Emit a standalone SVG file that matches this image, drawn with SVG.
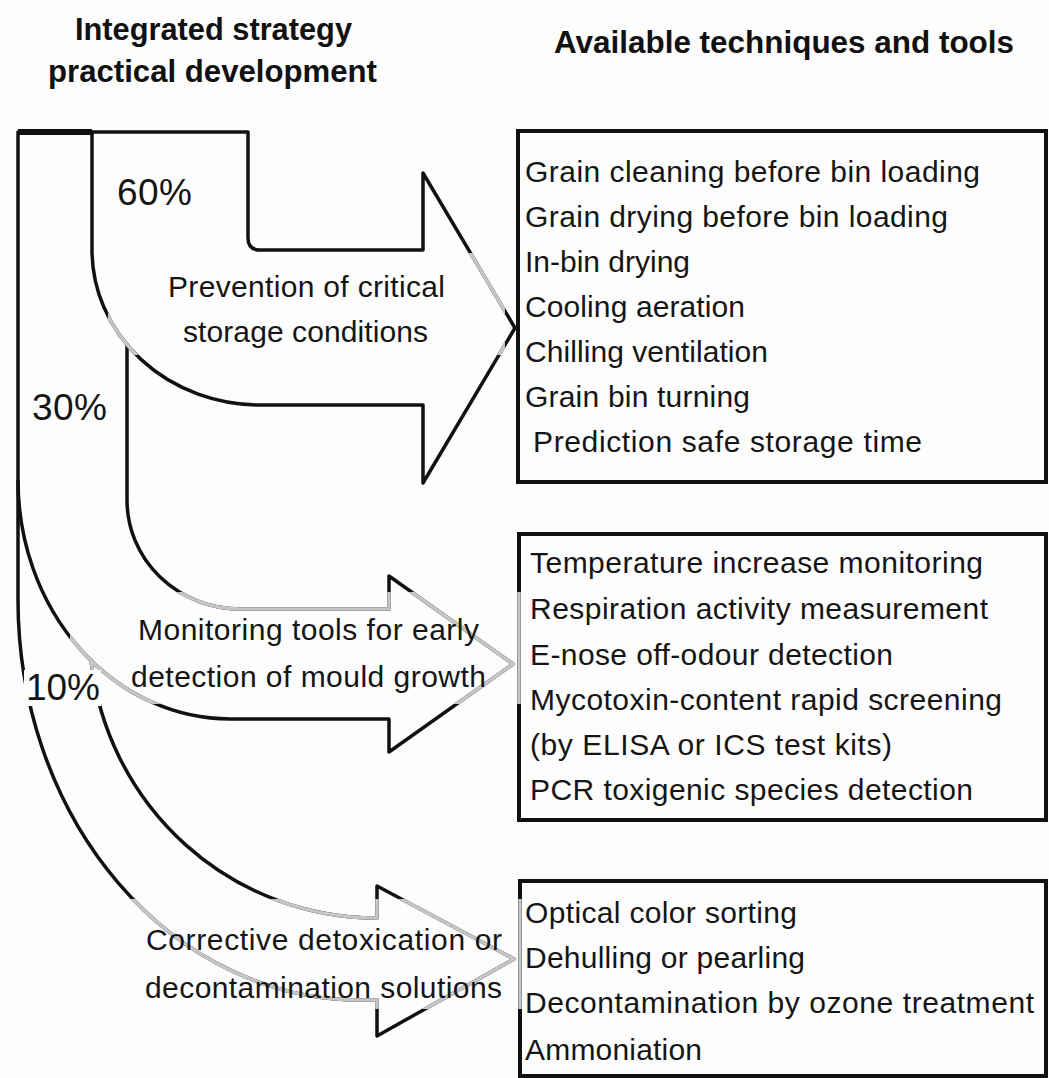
<svg xmlns="http://www.w3.org/2000/svg" xmlns:xlink="http://www.w3.org/1999/xlink" width="1049" height="1078" viewBox="0 0 1049 1078">
<style>
.o{fill:none;stroke:#111;stroke-width:3.5;stroke-linejoin:round}
.g{fill:none;stroke:#c6c6c6;stroke-width:3.5;stroke-linejoin:round}
.bx{fill:none;stroke:#111;stroke-width:4}
.t{font-family:"Liberation Sans",Arial,sans-serif;font-size:30px;fill:#151515}
.h{font-family:"Liberation Sans",Arial,sans-serif;font-size:32px;font-weight:bold;fill:#111}
.p{font-family:"Liberation Sans",Arial,sans-serif;font-size:37px;fill:#151515}
</style>
<defs>
<path id="a1" d="M92 132 L92 250 A168 155 0 0 0 260 405 L423 405 L423 483 L515 328 L423 173 L423 250 L260 250 Q248 250 248 238 L248 132 Z"/>
<path id="a2" d="M127 345 L127 500 A113 109 0 0 0 240 609 L389 609 L389 576 L513 664 L389 752 L389 719 L230 719 A212 239 0 0 1 18 480"/>
<path id="a3" d="M91 660 A287 290 0 0 0 377 918 L377 886 L514 959 L377 1036 L377 1000 L360 1000 A342 400 0 0 1 18 600 L18 132 L92 132"/>
<rect id="b2l" x="519" y="534" width="527" height="286"/>
<rect id="b3l" x="520" y="881" width="526" height="195"/>
<clipPath id="c1"><rect x="108" y="253" width="397" height="102"/></clipPath>
<clipPath id="c2"><rect x="70" y="592" width="460" height="112"/></clipPath>
<clipPath id="c3"><rect x="125" y="899" width="405" height="110"/></clipPath>
</defs>
<rect width="1049" height="1078" fill="#fdfdfd"/>

<g id="headers">
<text class="h" x="75" y="40" textLength="277" lengthAdjust="spacingAndGlyphs">Integrated strategy</text>
<text class="h" x="48" y="82" textLength="329" lengthAdjust="spacingAndGlyphs">practical development</text>
<text class="h" x="554" y="53" textLength="460" lengthAdjust="spacingAndGlyphs">Available techniques and tools</text>
</g>

<g id="connectors">
<line x1="18" y1="132" x2="92" y2="132" stroke="#111" stroke-width="6"/>
<use xlink:href="#a1" class="o"/>
<use xlink:href="#a2" class="o"/>
<use xlink:href="#a3" class="o"/>
<use xlink:href="#a1" class="g" clip-path="url(#c1)"/>
<use xlink:href="#a2" class="g" clip-path="url(#c2)"/>
<use xlink:href="#a3" class="g" clip-path="url(#c2)"/>
<use xlink:href="#a3" class="g" clip-path="url(#c3)"/>
</g>

<g id="pct">
<text class="p" x="117" y="205" textLength="75">60%</text>
<text class="p" x="32" y="420" textLength="75">30%</text>
<rect x="24" y="670" width="77" height="36" fill="#fdfdfd"/>
<text class="p" x="26" y="700" textLength="74">10%</text>
</g>

<g id="arrow-prevention">
<text class="t" x="168" y="297" textLength="277" lengthAdjust="spacing">Prevention  of critical</text>
<text class="t" x="183" y="342" textLength="245" lengthAdjust="spacing">storage  conditions</text>
</g>
<g id="arrow-monitoring">
<text class="t" x="138" y="640" textLength="341" lengthAdjust="spacing">Monitoring  tools  for  early</text>
<text class="t" x="131" y="687" textLength="355" lengthAdjust="spacing">detection  of  mould  growth</text>
</g>
<g id="arrow-corrective">
<text class="t" x="146" y="950" textLength="356" lengthAdjust="spacing">Corrective  detoxication  or</text>
<text class="t" x="145" y="998" textLength="357" lengthAdjust="spacing">decontamination  solutions</text>
</g>

<g id="box-prevention">
<rect class="bx" x="518" y="131" width="528" height="351"/>
<text class="t" x="525" y="182" textLength="455" lengthAdjust="spacing">Grain cleaning  before  bin  loading</text>
<text class="t" x="525" y="227" textLength="423" lengthAdjust="spacing">Grain drying  before  bin  loading</text>
<text class="t" x="525" y="272" textLength="165" lengthAdjust="spacing">In-bin  drying</text>
<text class="t" x="525" y="317" textLength="220" lengthAdjust="spacing">Cooling  aeration</text>
<text class="t" x="525" y="362" textLength="243" lengthAdjust="spacing">Chilling  ventilation</text>
<text class="t" x="525" y="407" textLength="225" lengthAdjust="spacing">Grain  bin  turning</text>
<text class="t" x="533" y="452" textLength="389" lengthAdjust="spacing">Prediction  safe  storage  time</text>
</g>

<g id="box-monitoring">
<use xlink:href="#b2l" class="bx"/>
<use xlink:href="#b2l" class="g" stroke-width="4" clip-path="url(#c2)"/>
<text class="t" x="530" y="573" textLength="453" lengthAdjust="spacing">Temperature  increase  monitoring</text>
<text class="t" x="530" y="619" textLength="458" lengthAdjust="spacing">Respiration  activity  measurement</text>
<text class="t" x="530" y="665" textLength="363" lengthAdjust="spacing">E-nose  off-odour  detection</text>
<text class="t" x="530" y="710" textLength="472" lengthAdjust="spacing">Mycotoxin-content  rapid  screening</text>
<text class="t" x="530" y="755" textLength="362" lengthAdjust="spacing">(by ELISA or ICS test kits)</text>
<text class="t" x="530" y="800" textLength="443" lengthAdjust="spacing">PCR toxigenic  species  detection</text>
</g>

<g id="box-corrective">
<use xlink:href="#b3l" class="bx"/>
<use xlink:href="#b3l" class="g" stroke-width="4" clip-path="url(#c3)"/>
<text class="t" x="525" y="923" textLength="272" lengthAdjust="spacing">Optical  color  sorting</text>
<text class="t" x="525" y="968" textLength="280" lengthAdjust="spacing">Dehulling  or  pearling</text>
<text class="t" x="525" y="1013" textLength="509" lengthAdjust="spacing">Decontamination  by  ozone  treatment</text>
<text class="t" x="525" y="1060" textLength="177" lengthAdjust="spacing">Ammoniation</text>
</g>
</svg>
